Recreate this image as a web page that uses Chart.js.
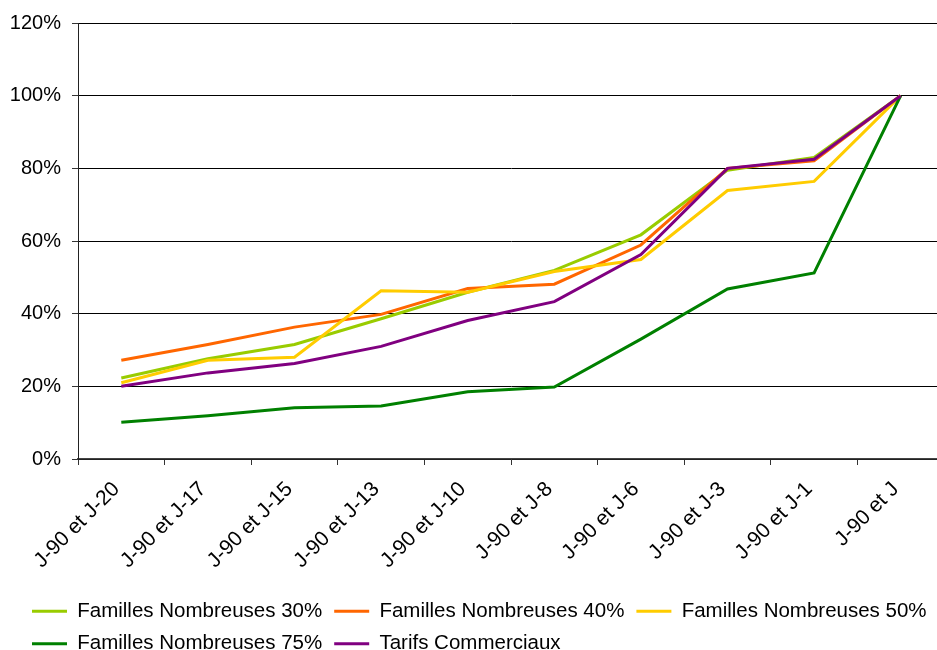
<!DOCTYPE html>
<html>
<head>
<meta charset="utf-8">
<script src="https://cdn.jsdelivr.net/npm/chart.js@4"></script>
<style>
  html, body { margin: 0; padding: 0; background: #fff; overflow: hidden; }
  #wrap { position: absolute; left: 0; top: 0; width: 950px; height: 664px; }
</style>
</head>
<body>
<div id="wrap"><canvas id="c"></canvas></div>
<script>
const categories = ["J-90 et J-20", "J-90 et J-17", "J-90 et J-15", "J-90 et J-13", "J-90 et J-10",
                    "J-90 et J-8", "J-90 et J-6", "J-90 et J-3", "J-90 et J-1", "J-90 et J"];
const seriesNames = ["Familles Nombreuses 30%", "Familles Nombreuses 40%", "Familles Nombreuses 50%",
                     "Familles Nombreuses 75%", "Tarifs Commerciaux"];
const fn30 = [22.3, 27.6, 31.5, 38.6, 45.9, 51.9, 61.7, 79.5, 83.0, 100];
const fn40 = [27.2, 31.5, 36.3, 39.8, 46.9, 48.1, 58.9, 80.0, 82.1, 100];
const fn50 = [21.0, 27.2, 28.0, 46.3, 45.9, 51.6, 54.9, 73.9, 76.4, 100];
const fn75 = [10.1, 11.9, 14.1, 14.6, 18.5, 19.8, 33.0, 46.8, 51.2, 100];
const tarifs = [20.0, 23.7, 26.3, 31.0, 38.1, 43.3, 56.3, 80.0, 82.5, 100];
const yTicks = [0, 20, 40, 60, 80, 100, 120];

const colors = ["#99CC00", "#FF6600", "#FFCC00", "#008000", "#800080"];
const seriesData = [fn30, fn40, fn50, fn75, tarifs];

const FONT = "'Liberation Sans', Arial, Helvetica, sans-serif";

const datasets = seriesData.map((d, i) => ({
  label: seriesNames[i],
  data: d,
  borderColor: colors[i],
  backgroundColor: colors[i],
  borderWidth: 3,
  pointRadius: 0,
  pointHoverRadius: 0,
  tension: 0,
  fill: false,
  order: seriesData.length - 1 - i
}));

// shift the bottom legend right so its first item starts where the original does
const legendShift = {
  id: 'legendShift',
  afterLayout(chart) {
    if (chart.legend) { chart.legend.left += 12; chart.legend.right += 12; }
  }
};

new Chart(document.getElementById('c'), {
  type: 'line',
  data: { labels: categories, datasets },
  plugins: [legendShift],
  options: {
    responsive: true,
    maintainAspectRatio: false,
    animation: false,
    layout: { padding: { left: 8, right: 6, top: 22, bottom: 0 } },
    plugins: {
      tooltip: { enabled: false },
      legend: {
        position: 'bottom',
        align: 'start',
        labels: {
          boxWidth: 35,
          boxHeight: 3,
          padding: 12,
          color: '#000',
          font: { family: FONT, size: 20.5 },
          sort: (a, b) => a.datasetIndex - b.datasetIndex,
          generateLabels: (chart) => {
            const items = Chart.defaults.plugins.legend.labels.generateLabels(chart);
            items.forEach(it => { it.lineWidth = 0; });
            return items;
          }
        }
      }
    },
    scales: {
      x: {
        type: 'category',
        offset: true,
        afterFit: (s) => { s.height = 130; },
        grid: {
          offset: true,
          drawOnChartArea: false,
          drawTicks: true,
          tickLength: 6,
          color: '#333',
          lineWidth: 1
        },
        border: { display: true, color: '#444', width: 1.5 },
        ticks: {
          autoSkip: false,
          maxRotation: 45,
          minRotation: 45,
          padding: 12,
          labelOffset: -5,
          color: '#000',
          font: { family: FONT, size: 21 }
        }
      },
      y: {
        min: 0,
        max: 120,
        afterFit: (s) => { s.width = 70; },
        afterBuildTicks: (s) => { s.ticks = yTicks.map(v => ({ value: v })); },
        grid: {
          color: '#000',
          lineWidth: 1,
          drawTicks: true,
          tickLength: 6,
          tickColor: '#333'
        },
        border: { display: true, color: '#222', width: 1 },
        ticks: {
          padding: 11,
          color: '#000',
          font: { family: FONT, size: 20 },
          callback: (v) => v + '%'
        }
      }
    }
  }
});
</script>
</body>
</html>
